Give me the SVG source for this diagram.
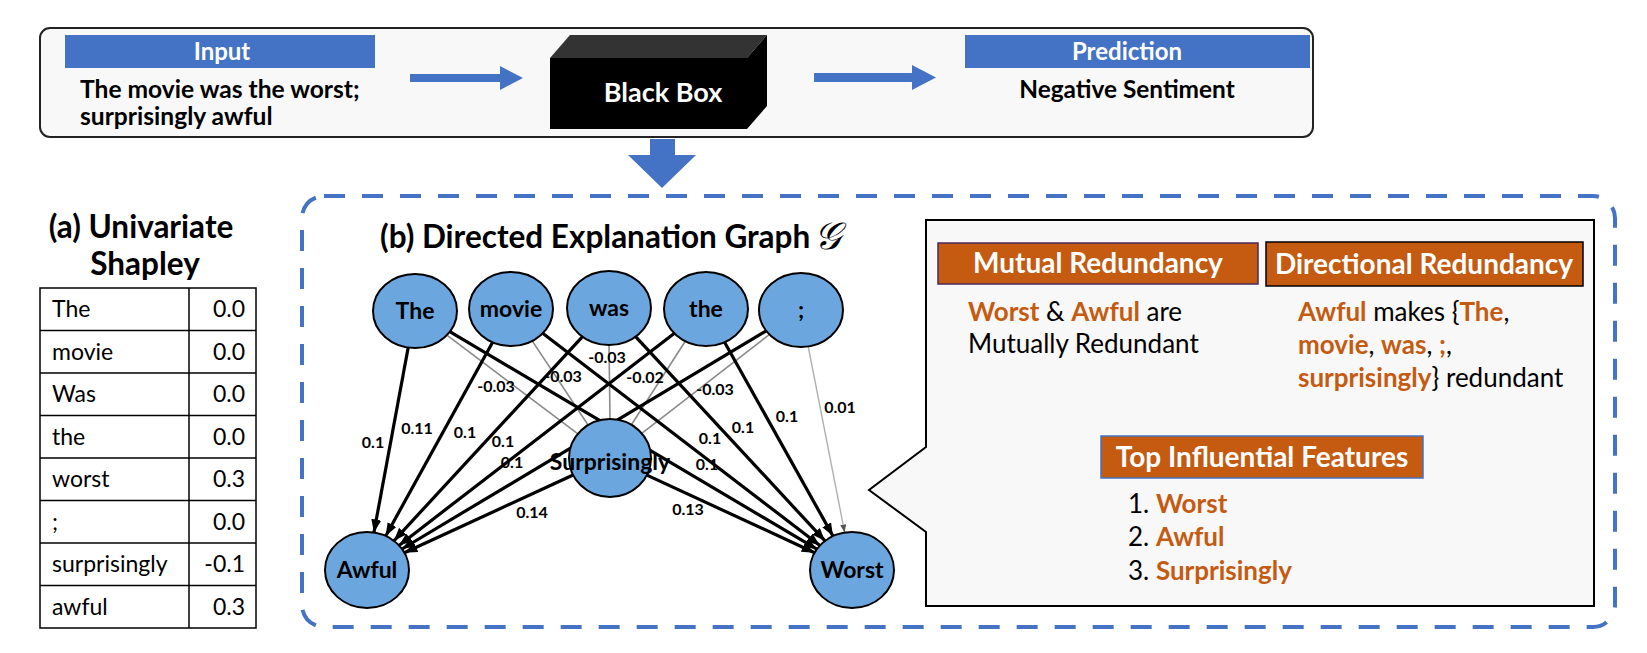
<svg xmlns="http://www.w3.org/2000/svg" width="1647" height="653" viewBox="0 0 1647 653">
<defs>
<style>
text{font-family:Lato,"Liberation Sans",sans-serif;fill:#000;}
.b{font-weight:bold;}
.wh{fill:#fff;font-weight:bold;text-anchor:middle;}
.blue{fill:#4472C4;}
.org{fill:#C55A11;}
.node ellipse{fill:#6CA6DE;stroke:#000;stroke-width:2;}
.node text{font-weight:bold;font-size:23px;text-anchor:middle;}
.e{stroke:#000;stroke-width:3.2;fill:none;marker-end:url(#ah);}
.g{stroke:#8a8a8a;stroke-width:1.6;fill:none;}
.g2{stroke:#b0b0b0;stroke-width:1.4;fill:none;marker-end:url(#ahg);}
.lbl{font-weight:bold;font-size:16px;text-anchor:middle;}
.or{fill:#C55A11;font-weight:bold;}
.body{font-size:26px;}
.cell{font-size:23px;}
.val{font-size:23px;text-anchor:end;}
.title{font-weight:bold;}
</style>
<marker id="ah" viewBox="0 0 13 10" refX="13" refY="5" markerWidth="13" markerHeight="10" markerUnits="userSpaceOnUse" orient="auto"><path d="M0,0 L13,5 L0,10 z" fill="#000"/></marker>
<marker id="ahg" viewBox="0 0 8 6" refX="8" refY="3" markerWidth="8" markerHeight="6" markerUnits="userSpaceOnUse" orient="auto"><path d="M0,0 L8,3 L0,6 z" fill="#555"/></marker>
</defs>
<rect width="1647" height="653" fill="#fff"/>

<g id="top-panel">
<rect x="40" y="28" width="1273" height="109" rx="10" fill="#f8f8f8" stroke="#222" stroke-width="2"/>
</g>
<g id="input">
<rect class="blue" x="65" y="35" width="310" height="33"/>
<text class="wh" x="222" y="60" font-size="24">Input</text>
<text class="b" x="80" y="98" font-size="24.6">The movie was the worst;</text>
<text class="b" x="80" y="125" font-size="24.6">surprisingly awful</text>
</g>
<g id="black-box">
<polygon points="550,58 570,35 767,35 747,58" fill="#333"/>
<polygon points="747,58 767,35 767,106 747,129" fill="#000"/>
<rect x="550" y="58" width="197" height="71" fill="#000"/>
<text class="wh" x="663" y="102" font-size="27">Black Box</text>
</g>
<g id="prediction">
<rect class="blue" x="965" y="35" width="345" height="33"/>
<text class="wh" x="1127" y="60" font-size="24">Prediction</text>
<text class="b" x="1127" y="98" font-size="24.4" text-anchor="middle">Negative Sentiment</text>
</g>
<g id="flow-arrows">
<polygon class="blue" points="410,74 500,74 500,66 523,78 500,90 500,82 410,82"/>
<polygon class="blue" points="814,73 912,73 912,65 936,77.5 912,90 912,82 814,82"/>
<polygon class="blue" points="650,139 675,139 675,155 696,155 662,188 628,155 650,155"/>
</g>

<g id="univariate">
<text class="title" x="141" y="238" text-anchor="middle" font-size="31.5">(a) Univariate</text>
<text class="title" x="145" y="275" text-anchor="middle" font-size="31.5">Shapley</text>
<rect x="40" y="288" width="216" height="340" fill="#fff" stroke="#000" stroke-width="1.5"/>
<g stroke="#000" stroke-width="1.5">
<line x1="40" y1="330.5" x2="256" y2="330.5"/>
<line x1="40" y1="373" x2="256" y2="373"/>
<line x1="40" y1="415.5" x2="256" y2="415.5"/>
<line x1="40" y1="458" x2="256" y2="458"/>
<line x1="40" y1="500.5" x2="256" y2="500.5"/>
<line x1="40" y1="543" x2="256" y2="543"/>
<line x1="40" y1="585.5" x2="256" y2="585.5"/>
<line x1="189" y1="288" x2="189" y2="628"/>
</g>
<text class="cell" x="52" y="317">The</text><text class="val" x="245" y="317">0.0</text>
<text class="cell" x="52" y="359.5">movie</text><text class="val" x="245" y="359.5">0.0</text>
<text class="cell" x="52" y="402">Was</text><text class="val" x="245" y="402">0.0</text>
<text class="cell" x="52" y="444.5">the</text><text class="val" x="245" y="444.5">0.0</text>
<text class="cell" x="52" y="487">worst</text><text class="val" x="245" y="487">0.3</text>
<text class="cell" x="52" y="529.5">;</text><text class="val" x="245" y="529.5">0.0</text>
<text class="cell" x="52" y="572">surprisingly</text><text class="val" x="245" y="572">-0.1</text>
<text class="cell" x="52" y="614.5">awful</text><text class="val" x="245" y="614.5">0.3</text>
</g>

<g id="explanation-frame">
<rect x="302" y="196" width="1313" height="431" rx="22" fill="none" stroke="#4472C4" stroke-width="4" stroke-dasharray="21 17"/>
<text class="title" x="380" y="248" font-size="31.5">(b) Directed Explanation Graph</text>
<text x="814" y="249" font-size="38" font-family="'DejaVu Serif',serif" font-style="italic">𝒢</text>
</g>

<g id="connectors">
<path class="g" d="M446.9,335.1 L577.9,433.8"/>
<path class="g" d="M532.2,340.9 L588.1,425"/>
<path class="g" d="M609,345 L610,419"/>
<path class="g" d="M685.3,341.2 L631.4,424.7"/>
<path class="g" d="M769.5,334.4 L641.8,433.4"/>
<path class="e" d="M408.2,347.5 L373.9,532.5"/>
<path class="e" d="M492.6,342.3 L385.7,536"/>
<path class="e" d="M582.5,336.7 L393.9,540.8"/>
<path class="e" d="M674.4,333.3 L399,545.4"/>
<path class="e" d="M766.3,330.8 L402,549"/>
<path class="e" d="M573.1,475 L404.4,552.8"/>
<path class="e" d="M449.8,331.6 L816.9,549.2"/>
<path class="e" d="M542.7,333.3 L819.9,545.5"/>
<path class="e" d="M635.6,336.7 L825,540.9"/>
<path class="e" d="M724.6,342.2 L833,536.1"/>
<path class="g2" d="M808.2,346.5 L844.7,532.6"/>
<path class="e" d="M646.9,475.1 L814.6,552.7"/>
<g id="edge-labels">
<text class="lbl" x="373" y="448">0.1</text>
<text class="lbl" x="417" y="434">0.11</text>
<text class="lbl" x="465" y="438">0.1</text>
<text class="lbl" x="503" y="447">0.1</text>
<text class="lbl" x="512" y="468">0.1</text>
<text class="lbl" x="532" y="518">0.14</text>
<text class="lbl" x="787" y="422">0.1</text>
<text class="lbl" x="743" y="433">0.1</text>
<text class="lbl" x="710" y="444">0.1</text>
<text class="lbl" x="707" y="470">0.1</text>
<text class="lbl" x="688" y="515">0.13</text>
<text class="lbl" x="840" y="413">0.01</text>
<text class="lbl" x="496" y="392">-0.03</text>
<text class="lbl" x="563" y="382">-0.03</text>
<text class="lbl" x="607" y="363">-0.03</text>
<text class="lbl" x="645" y="383">-0.02</text>
<text class="lbl" x="715" y="395">-0.03</text>
</g>
</g>

<g id="node-the1" class="node"><ellipse cx="415" cy="311" rx="42" ry="37"/><text x="415" y="319">The</text></g>
<g id="node-movie" class="node"><ellipse cx="511" cy="309" rx="42" ry="37"/><text x="511" y="317">movie</text></g>
<g id="node-was" class="node"><ellipse cx="609" cy="308" rx="42" ry="37"/><text x="609" y="316">was</text></g>
<g id="node-the2" class="node"><ellipse cx="706" cy="309" rx="42" ry="37"/><text x="706" y="317">the</text></g>
<g id="node-semicolon" class="node"><ellipse cx="801" cy="310" rx="42" ry="37"/><text x="801" y="318">;</text></g>
<g id="node-surprisingly" class="node"><ellipse cx="610" cy="458" rx="41" ry="39"/><text x="610" y="470">Surprisingly</text></g>
<g id="node-awful" class="node"><ellipse cx="367" cy="570" rx="42" ry="38"/><text x="367" y="578">Awful</text></g>
<g id="node-worst" class="node"><ellipse cx="852" cy="570" rx="42" ry="38"/><text x="852" y="578">Worst</text></g>

<g id="summary-panel">
<path d="M926,220 H1594 V606 H926 V532 L869,490 L926,447 Z" fill="#f8f8f8" stroke="#000" stroke-width="2"/>
</g>
<g id="mutual">
<rect class="org" x="938" y="243" width="320" height="41" stroke="#4a2a5a" stroke-width="1.5"/>
<text class="wh" x="1098" y="273" font-size="28">Mutual Redundancy</text>
<text class="body" x="968" y="321"><tspan class="or">Worst</tspan> &amp; <tspan class="or">Awful</tspan> are</text>
<text class="body" x="968" y="353">Mutually Redundant</text>
</g>
<g id="directional">
<rect class="org" x="1266" y="242" width="317" height="44" stroke="#000" stroke-width="1.5"/>
<text class="wh" x="1424" y="274" font-size="28">Directional Redundancy</text>
<text class="body" x="1298" y="321"><tspan class="or">Awful</tspan> makes {<tspan class="or">The</tspan>,</text>
<text class="body" x="1298" y="354"><tspan class="or">movie</tspan>, <tspan class="or">was</tspan>, <tspan class="or">;</tspan>,</text>
<text class="body" x="1298" y="387"><tspan class="or">surprisingly</tspan>} redundant</text>
</g>
<g id="top-features">
<rect class="org" x="1101" y="436" width="322" height="42" stroke="#4472C4" stroke-width="1.5"/>
<text class="wh" x="1262" y="467" font-size="28">Top Influential Features</text>
<text class="body" x="1128" y="513">1. <tspan class="or">Worst</tspan></text>
<text class="body" x="1128" y="546">2. <tspan class="or">Awful</tspan></text>
<text class="body" x="1128" y="580">3. <tspan class="or">Surprisingly</tspan></text>
</g>
</svg>
